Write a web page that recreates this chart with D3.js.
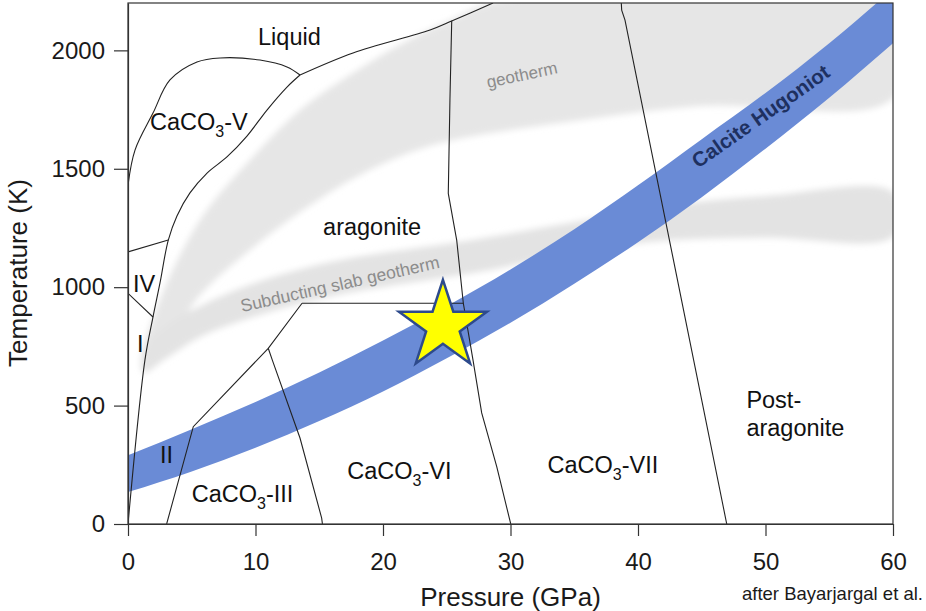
<!DOCTYPE html>
<html>
<head>
<meta charset="utf-8">
<script src="https://cdnjs.cloudflare.com/ajax/libs/d3/7.8.5/d3.min.js"></script>
<style>
  body { margin: 0; background: #fff; }
  svg { display: block; font-family: "Liberation Sans", Arial, sans-serif; }
</style>
</head>
<body>
<div id="chart"></div>
<script>
const width = 926;
const height = 611;
const margin = { top: 3, right: 33, bottom: 87, left: 128 };

// axis ticks
const pressureTicks = [0, 10, 20, 30, 40, 50, 60];
const temperatureTicks = [0, 500, 1000, 1500, 2000];

// phase boundaries, [pressure (GPa), temperature (K)]
const calciteVOuter = [[0, 1431], [0.55, 1579], [1.96, 1735], [3.29, 1875], [5.41, 1951], [7.22, 1968], [10.35, 1959], [12.47, 1930], [13.49, 1896]];
const meltingCurve = [[13.49, 1896], [17.65, 1989], [23.69, 2086], [25.43, 2125], [28.63, 2200]];
const aragoniteLowP = [[0, 0], [1.33, 693], [1.96, 874], [2.51, 1018], [3.16, 1199], [3.84, 1301], [4.86, 1398], [6.2, 1482], [7.76, 1550], [9.33, 1638], [10.9, 1748], [12.47, 1845], [13.49, 1896]];
const ivVBoundary = [[0, 1149], [3.16, 1199]];
const ivIBoundary = [[0, 974], [1.96, 874]];
const iiIiiBoundary = [[3.03, 0], [5.12, 411], [11.0, 742], [13.65, 932]];
const aragoniteViBoundary = [[13.65, 932], [26.3, 932]];
const iiiViBoundary = [[11.0, 742], [11.32, 692], [13.49, 363], [15.19, 25], [15.25, 0]];
const viViiBoundary = [[25.39, 2125], [25.25, 1790], [25.12, 1396], [25.78, 1199], [26.3, 932], [27.06, 692], [27.74, 469], [28.92, 242], [30.02, 0]];
const postAragoniteBoundary = [[38.69, 2200], [38.72, 2170], [38.98, 2128], [46.96, 0]];

// calcite Hugoniot band
const hugoniotPressure = [0, 5, 10, 15, 20, 25, 30, 35, 40, 45, 50, 55, 60];
const hugoniotTHigh = [290, 400, 515, 640, 775, 920, 1075, 1245, 1430, 1625, 1820, 2030, 2260];
const hugoniotTLow = [135, 222, 322, 435, 560, 700, 850, 1015, 1190, 1380, 1585, 1800, 2030];

// geotherm bands (outline: upper edge left->right, lower edge right->left)
const geothermBand = [[1.2, 700], [2.5, 946], [5.65, 1284], [9.57, 1537], [13.5, 1748], [17.4, 1896], [21.3, 2023], [25.3, 2128], [29.2, 2210], [60, 2210],
  [60, 1799], [44.9, 1765], [34.4, 1697], [23.9, 1600], [18.2, 1474], [13.5, 1317], [9.57, 1157], [5.65, 967], [2.9, 756]];
const slabGeothermBand = [[1.2, 740], [3, 840], [5.65, 920], [9.57, 1010], [15.8, 1105], [27.6, 1205], [35, 1275], [41.7, 1340], [50, 1385], [60, 1400],
  [60, 1215], [50, 1210], [41.7, 1195], [35, 1145], [27.6, 1065], [15.8, 960], [9.57, 870], [5.65, 790], [3, 700], [1.2, 640]];

// shock experiment point
const starPoint = [24.7, 836];

// region labels: text, subscript part, suffix, anchor [P, T]
const phaseLabels = [
  { text: 'Liquid', at: [10.2, 2022] },
  { text: 'CaCO', sub: '3', rest: '-V', at: [1.73, 1664] },
  { text: 'aragonite', at: [15.3, 1220] },
  { text: 'IV', at: [0.39, 980] },
  { text: 'I', at: [0.7, 726] },
  { text: 'II', at: [2.5, 258] },
  { text: 'CaCO', sub: '3', rest: '-III', at: [5.0, 93] },
  { text: 'CaCO', sub: '3', rest: '-VI', at: [17.2, 190] },
  { text: 'CaCO', sub: '3', rest: '-VII', at: [32.9, 215] },
  { text: 'Post-', at: [48.5, 490] },
  { text: 'aragonite', at: [48.5, 372] }
];

const svg = d3.select('#chart')
  .append('svg')
  .attr('width', width)
  .attr('height', height);

const x = d3.scaleLinear().domain([0, 60]).range([margin.left, width - margin.right]);
const y = d3.scaleLinear().domain([0, 2200]).range([height - margin.bottom, margin.top]);

const defs = svg.append('defs');
defs.append('clipPath').attr('id', 'plot-clip')
  .append('rect')
  .attr('x', x(0)).attr('y', y(2200))
  .attr('width', x(60) - x(0)).attr('height', y(0) - y(2200));
defs.append('filter').attr('id', 'soft')
  .attr('x', '-10%').attr('y', '-10%').attr('width', '120%').attr('height', '120%')
  .append('feGaussianBlur').attr('stdDeviation', 3);

const plot = svg.append('g').attr('clip-path', 'url(#plot-clip)');

// gray geotherm bands
const bandLine = d3.line()
  .x(d => x(d[0]))
  .y(d => y(d[1]))
  .curve(d3.curveCatmullRomClosed.alpha(0.5));

const bands = plot.append('g').attr('filter', 'url(#soft)');
bands.append('path').attr('d', bandLine(geothermBand)).attr('fill', '#e6e6e6');
bands.append('path').attr('d', bandLine(slabGeothermBand)).attr('fill', '#e3e3e3');

// Hugoniot
const hugoniot = hugoniotPressure.map((p, i) => ({ p, lo: hugoniotTLow[i], hi: hugoniotTHigh[i] }));
plot.append('path')
  .attr('d', d3.area()
    .x(d => x(d.p))
    .y0(d => y(d.lo))
    .y1(d => y(d.hi))
    .curve(d3.curveMonotoneX)(hugoniot))
  .attr('fill', '#6a8bd6');

// phase boundaries
const boundaryLine = d3.line()
  .x(d => x(d[0]))
  .y(d => y(d[1]));

const smoothLines = [calciteVOuter, aragoniteLowP, meltingCurve];
const straightLines = [ivVBoundary, ivIBoundary, iiIiiBoundary, aragoniteViBoundary, iiiViBoundary, viViiBoundary, postAragoniteBoundary];

plot.selectAll('.smooth')
  .data(smoothLines)
  .enter()
  .append('path')
  .attr('class', 'smooth')
  .attr('d', d => boundaryLine.curve(d3.curveCatmullRom.alpha(0.5))(d))
  .attr('fill', 'none')
  .attr('stroke', '#222')
  .attr('stroke-width', 1.1);

plot.selectAll('.straight')
  .data(straightLines)
  .enter()
  .append('path')
  .attr('class', 'straight')
  .attr('d', d => boundaryLine.curve(d3.curveLinear)(d))
  .attr('fill', 'none')
  .attr('stroke', '#222')
  .attr('stroke-width', 1.1);

// band labels
plot.append('text')
  .attr('transform', `translate(${x(28.24)},${y(1841)}) rotate(-12)`)
  .attr('font-size', 17)
  .attr('fill', '#8c8c8c')
  .text('geotherm');

plot.append('text')
  .attr('transform', `translate(${x(8.94)},${y(895)}) rotate(-12.6)`)
  .attr('font-size', 17.5)
  .attr('fill', '#8c8c8c')
  .text('Subducting slab geotherm');

plot.append('text')
  .attr('transform', `translate(${x(49.6)},${y(1723)}) rotate(-35)`)
  .attr('text-anchor', 'middle')
  .attr('dominant-baseline', 'central')
  .attr('font-size', 20.5)
  .attr('font-weight', 'bold')
  .attr('fill', '#1e3060')
  .text('Calcite Hugoniot');

// phase labels
const labels = plot.selectAll('.phase')
  .data(phaseLabels)
  .enter()
  .append('text')
  .attr('class', 'phase')
  .attr('x', d => x(d.at[0]))
  .attr('y', d => y(d.at[1]))
  .attr('font-size', 23.5)
  .attr('fill', '#111');

labels.append('tspan').text(d => d.text);
labels.filter(d => d.sub)
  .append('tspan')
  .attr('font-size', 16)
  .attr('dy', 7)
  .text(d => d.sub);
labels.filter(d => d.rest)
  .append('tspan')
  .attr('dy', -7)
  .text(d => d.rest);

// star
plot.append('path')
  .attr('d', d3.symbol(d3.symbolStar, 2400)())
  .attr('transform', `translate(${x(starPoint[0])},${y(starPoint[1])})`)
  .attr('fill', '#ffff00')
  .attr('stroke', '#2d4a8c')
  .attr('stroke-width', 2.5)
  .attr('stroke-linejoin', 'miter');

// frame
svg.append('rect')
  .attr('x', x(0)).attr('y', y(2200))
  .attr('width', x(60) - x(0)).attr('height', y(0) - y(2200))
  .attr('fill', 'none')
  .attr('stroke', '#333')
  .attr('stroke-width', 1.2);

// axes
const xAxis = svg.append('g')
  .attr('transform', `translate(0,${y(0)})`)
  .call(d3.axisBottom(x).tickValues(pressureTicks).tickFormat(d3.format('d')).tickSize(12).tickPadding(17).tickSizeOuter(0));

const yAxis = svg.append('g')
  .attr('transform', `translate(${x(0)},0)`)
  .call(d3.axisLeft(y).tickValues(temperatureTicks).tickFormat(d3.format('d')).tickSize(14).tickPadding(9).tickSizeOuter(0));

[xAxis, yAxis].forEach(g => {
  g.attr('font-family', null).attr('font-size', 24);
  g.select('.domain').attr('stroke', '#333').attr('stroke-width', 1.2);
  g.selectAll('.tick line').attr('stroke', '#333').attr('stroke-width', 1.2);
  g.selectAll('.tick text').attr('fill', '#1a1a1a');
});

// axis titles
svg.append('text')
  .attr('x', x(30))
  .attr('y', 606)
  .attr('text-anchor', 'middle')
  .attr('font-size', 26)
  .attr('fill', '#1a1a1a')
  .text('Pressure (GPa)');

svg.append('text')
  .attr('transform', `translate(27,273) rotate(-90)`)
  .attr('text-anchor', 'middle')
  .attr('font-size', 26)
  .attr('fill', '#1a1a1a')
  .text('Temperature (K)');

svg.append('text')
  .attr('x', 742)
  .attr('y', 600)
  .attr('font-size', 18.5)
  .attr('fill', '#1a1a1a')
  .text('after Bayarjargal et al.');
</script>
</body>
</html>
